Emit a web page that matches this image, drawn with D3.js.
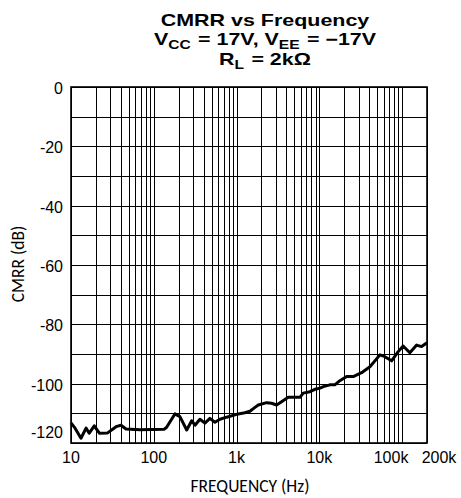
<!DOCTYPE html>
<html>
<head>
<meta charset="utf-8">
<script src="https://cdn.jsdelivr.net/npm/d3@7"></script>
<style>
  html, body { margin: 0; padding: 0; background: #fff; }
  svg { display: block; }
</style>
</head>
<body>
<svg id="chart" width="461" height="498"></svg>
<script>
// CMRR measurement: frequency (Hz) and common-mode rejection (dB)
const freqHz = [10, 11.2, 13.2, 15.2, 16.6, 19.1, 22, 27.7, 35, 40.2, 46.2, 68, 133, 143,
  180, 207, 250, 287, 315, 361, 415, 477, 548, 630, 759, 1050, 1260, 1450, 1670, 1830,
  2310, 2650, 3050, 3500, 4210, 5830, 6390, 7700, 8850, 10200, 11200, 13400, 15400,
  17700, 21400, 25700, 32400, 40900, 54000, 62000, 74700, 89700, 103000, 124000,
  150000, 172000, 200000];
const cmrrDb = [-113.2, -115, -118.4, -115, -116.7, -114.2, -116.7, -116.6, -114.5, -114,
  -115.3, -115.5, -115.4, -114.7, -110.2, -111.1, -115.6, -112.5, -114, -112, -113.3,
  -111.7, -113, -112, -111.3, -110.2, -109.8, -109.3, -108, -107.2, -106.4, -106.6,
  -107.2, -106.1, -104.6, -104.6, -103.2, -102.7, -101.9, -101.5, -101, -100.4, -100.4,
  -99, -97.6, -97.6, -96.3, -94.3, -90.3, -90.9, -92.3, -89.2, -87.3, -89.6, -87,
  -87.5, -86.2];

// Axis ticks
const xTickValues = [10, 100, 1000, 10000, 100000, 200000];
const xTickLabels = ["10", "100", "1k", "10k", "100k", "200k"];
const yTickValues = [0, -20, -40, -60, -80, -100, -120];
const yTickLabels = ["0", "-20", "-40", "-60", "-80", "-100", "-120"];

const svg = d3.select("#chart");
const plot = { left: 71, right: 427, top: 87, bottom: 443 };

const x = d3.scaleLog().domain([10, 200000]).range([plot.left, plot.right]);
const y = d3.scaleLinear().domain([-120, 0]).range([plot.bottom, plot.top]);

// Log grid: every 1..9 multiple in each decade
const vGrid = [];
for (let dec = 10; dec <= 100000; dec *= 10) {
  for (let m = 1; m <= 9; m++) {
    const v = dec * m;
    if (v <= 200000) vGrid.push(v);
  }
}
const hGrid = d3.range(-120, 1, 10);

const grid = svg.append("g").attr("stroke", "#000").attr("shape-rendering", "crispEdges");
grid.selectAll("line.v").data(vGrid).join("line")
  .attr("x1", d => Math.round(x(d)) + 0.5).attr("x2", d => Math.round(x(d)) + 0.5)
  .attr("y1", plot.top).attr("y2", plot.bottom)
  .attr("stroke-width", 1.2);
grid.selectAll("line.h").data(hGrid).join("line")
  .attr("x1", plot.left).attr("x2", plot.right)
  .attr("y1", d => Math.round(y(d)) + 0.5).attr("y2", d => Math.round(y(d)) + 0.5)
  .attr("stroke-width", 1.2);

// Frame
svg.append("rect")
  .attr("x", plot.left).attr("y", plot.top)
  .attr("width", plot.right - plot.left).attr("height", plot.bottom - plot.top)
  .attr("fill", "none").attr("stroke", "#000").attr("stroke-width", 1.6);

// Data curve
const line = d3.line().x((d, i) => x(freqHz[i])).y(d => y(d)).curve(d3.curveLinear);
svg.append("path")
  .attr("d", line(cmrrDb))
  .attr("fill", "none").attr("stroke", "#000").attr("stroke-width", 3)
  .attr("stroke-linejoin", "round");

// Tick labels
const tickFont = "'Liberation Sans', Arial, sans-serif";
const xShift = { 100000: -11, 200000: 12 };
svg.append("g").selectAll("text").data(xTickValues).join("text")
  .attr("x", d => x(d) + (xShift[d] || 0)).attr("y", 463)
  .attr("text-anchor", "middle")
  .attr("font-family", tickFont).attr("font-size", 16)
  .text((d, i) => xTickLabels[i]);

svg.append("g").selectAll("text").data(yTickValues).join("text")
  .attr("x", 63).attr("y", d => d === -120 ? y(d) - 5 : y(d) + 7)
  .attr("text-anchor", "end")
  .attr("font-family", tickFont).attr("font-size", 16)
  .text((d, i) => yTickLabels[i]);

// Axis titles
const titleFont = "Carlito, Lato, 'Open Sans', sans-serif";
svg.append("text")
  .attr("transform", "translate(24,264) rotate(-90)")
  .attr("text-anchor", "middle")
  .attr("font-family", titleFont).attr("font-size", 17.5)
  .text("CMRR (dB)");
svg.append("text")
  .attr("x", 250).attr("y", 492)
  .attr("text-anchor", "middle")
  .attr("font-family", titleFont).attr("font-size", 17.5)
  .text("FREQUENCY (Hz)");

// Chart title with subscripts, widened
const title = svg.append("g")
  .attr("transform", "translate(265,0) scale(1.3,1)")
  .attr("font-family", tickFont).attr("font-weight", "bold").attr("font-size", 16.5)
  .attr("text-anchor", "middle");
title.append("text").attr("x", 0).attr("y", 26).text("CMRR vs Frequency");
const t2 = title.append("text").attr("x", 0).attr("y", 45.5);
t2.append("tspan").text("V");
t2.append("tspan").attr("font-size", 12).attr("dy", 4).text("CC");
t2.append("tspan").attr("dy", -4).attr("dx", 1).text(" = 17V, V");
t2.append("tspan").attr("font-size", 12).attr("dy", 4).text("EE");
t2.append("tspan").attr("dy", -4).attr("dx", 1).text(" = \u221217V");
const t3 = title.append("text").attr("x", 0).attr("y", 65.5);
t3.append("tspan").text("R");
t3.append("tspan").attr("font-size", 12).attr("dy", 4).text("L");
t3.append("tspan").attr("dy", -4).attr("dx", 1).text(" = 2k\u03A9");
</script>
</body>
</html>
